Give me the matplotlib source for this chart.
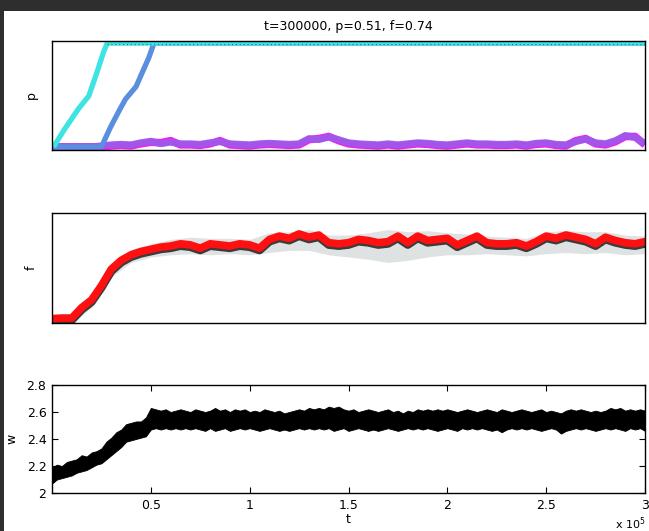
import numpy as np
import matplotlib
matplotlib.use("Agg")
import matplotlib.pyplot as plt
import matplotlib.transforms as mtransforms
from matplotlib.patches import Rectangle

plt.rcParams['font.family'] = ['DejaVu Sans']

title_text = "t=300000, p=0.51, f=0.74"

# ---- top panel: p (time in units of 1e5) ----
cyan_t = [0.008, 0.06, 0.11, 0.135, 0.186, 0.226, 0.262, 0.28, 3.0]
cyan_p = [0.0, 0.16, 0.30, 0.37, 0.49, 0.71, 0.92, 1.0, 1.0]
blue_t = [0.0, 0.25, 0.296, 0.34, 0.372, 0.425, 0.455, 0.49, 0.516, 3.0]
blue_p = [0.0, 0.0, 0.19, 0.35, 0.46, 0.58, 0.71, 0.86, 1.0, 1.0]
speck_t = [0.28, 3.0]
speck_p = [0.99, 0.99]
purple_p = [0.0, 0.0, 0.0, 0.0, 0.0, 0.01, 0.02, 0.025, 0.02, 0.04,
            0.055, 0.03, 0.045, 0.03, 0.03, 0.025, 0.04, 0.05, 0.03, 0.025,
            0.02, 0.03, 0.035, 0.03, 0.025, 0.03, 0.08, 0.07, 0.095, 0.07,
            0.04, 0.03, 0.025, 0.02, 0.03, 0.02, 0.03, 0.04, 0.035, 0.025,
            0.02, 0.03, 0.04, 0.03, 0.03, 0.025, 0.025, 0.03, 0.02, 0.035,
            0.04, 0.025, 0.02, 0.05, 0.075, 0.04, 0.03, 0.06, 0.11, 0.09,
            0.03]
magenta_p = [0.0, 0.0, 0.0, 0.0, 0.0, 0.0, 0.01, 0.015, 0.01, 0.03,
             0.045, 0.04, 0.06, 0.02, 0.02, 0.015, 0.03, 0.06, 0.02, 0.015,
             0.01, 0.02, 0.025, 0.02, 0.015, 0.02, 0.07, 0.08, 0.10, 0.06,
             0.03, 0.02, 0.015, 0.01, 0.02, 0.01, 0.02, 0.03, 0.025, 0.015,
             0.01, 0.02, 0.03, 0.02, 0.02, 0.015, 0.015, 0.02, 0.01, 0.025,
             0.03, 0.015, 0.01, 0.06, 0.08, 0.03, 0.02, 0.05, 0.10, 0.10,
             0.02]

# ---- middle panel: f ----
f_red = [0.04, 0.045, 0.045, 0.14, 0.21, 0.34, 0.49, 0.57, 0.62, 0.65,
         0.67, 0.69, 0.70, 0.72, 0.71, 0.68, 0.72, 0.71, 0.70, 0.72,
         0.71, 0.68, 0.76, 0.79, 0.77, 0.81, 0.78, 0.80, 0.73, 0.72,
         0.73, 0.76, 0.75, 0.73, 0.74, 0.79, 0.73, 0.79, 0.75, 0.76,
         0.77, 0.71, 0.75, 0.79, 0.73, 0.72, 0.72, 0.73, 0.70, 0.74,
         0.79, 0.77, 0.80, 0.78, 0.76, 0.72, 0.78, 0.75, 0.73, 0.72,
         0.74]
f_noise_hi = [0.06, 0.07, 0.26, 0.53, 0.67, 0.72, 0.76, 0.78, 0.77, 0.77,
              0.76, 0.82, 0.83, 0.85, 0.80, 0.80, 0.82, 0.85, 0.83, 0.84,
              0.82, 0.81, 0.79, 0.78, 0.77, 0.83, 0.84, 0.83, 0.83, 0.80,
              0.79]
f_noise_lo = [0.0, 0.0, 0.14, 0.42, 0.55, 0.60, 0.62, 0.63, 0.62, 0.63,
              0.62, 0.64, 0.66, 0.66, 0.62, 0.60, 0.58, 0.55, 0.57, 0.60,
              0.62, 0.62, 0.63, 0.62, 0.61, 0.63, 0.64, 0.63, 0.64, 0.62,
              0.63]

# ---- bottom panel: w band (upper / lower envelope) ----
w_upper = [2.19, 2.21, 2.20, 2.23, 2.24, 2.25, 2.28, 2.27, 2.30, 2.31,
           2.33, 2.38, 2.41, 2.45, 2.47, 2.51, 2.52, 2.53, 2.53, 2.56,
           2.63, 2.62, 2.61, 2.62, 2.60, 2.61, 2.62, 2.61, 2.60, 2.62,
           2.61, 2.60, 2.61, 2.63, 2.61, 2.62, 2.60, 2.62, 2.61, 2.62,
           2.60, 2.61, 2.60, 2.62, 2.61, 2.60, 2.61, 2.59, 2.60, 2.61,
           2.62, 2.61, 2.63, 2.62, 2.63, 2.62, 2.64, 2.63, 2.64, 2.62,
           2.61, 2.62, 2.60, 2.61, 2.62, 2.61, 2.60, 2.61, 2.62, 2.60,
           2.61, 2.59, 2.61, 2.60, 2.62, 2.61, 2.62, 2.61, 2.62, 2.61,
           2.62, 2.61, 2.60, 2.61, 2.62, 2.61, 2.60, 2.61, 2.62, 2.61,
           2.60, 2.62, 2.61, 2.60, 2.61, 2.62, 2.61, 2.60, 2.61, 2.62,
           2.60, 2.61, 2.60, 2.59, 2.61, 2.62, 2.61, 2.62, 2.61, 2.60,
           2.61, 2.60, 2.61, 2.63, 2.62, 2.63, 2.61, 2.62, 2.61, 2.62,
           2.61]
w_lower = [2.07, 2.10, 2.11, 2.12, 2.13, 2.15, 2.16, 2.17, 2.19, 2.21,
           2.22, 2.25, 2.28, 2.31, 2.34, 2.38, 2.39, 2.40, 2.41, 2.42,
           2.47, 2.48, 2.47, 2.48, 2.47, 2.48, 2.47, 2.48, 2.47, 2.48,
           2.47, 2.46, 2.48, 2.46, 2.47, 2.48, 2.46, 2.47, 2.48, 2.47,
           2.48, 2.47, 2.46, 2.47, 2.48, 2.47, 2.46, 2.47, 2.46, 2.47,
           2.48, 2.47, 2.48, 2.47, 2.48, 2.47, 2.48, 2.46, 2.47, 2.48,
           2.46, 2.47, 2.48, 2.47, 2.46, 2.47, 2.46, 2.47, 2.48, 2.47,
           2.46, 2.47, 2.48, 2.47, 2.48, 2.47, 2.48, 2.47, 2.46, 2.47,
           2.48, 2.47, 2.46, 2.48, 2.47, 2.48, 2.47, 2.48, 2.47, 2.46,
           2.47, 2.45, 2.47, 2.48, 2.47, 2.48, 2.47, 2.48, 2.47, 2.46,
           2.47, 2.48, 2.47, 2.44, 2.46, 2.47, 2.48, 2.47, 2.48, 2.47,
           2.46, 2.47, 2.48, 2.47, 2.48, 2.47, 2.46, 2.48, 2.47, 2.48,
           2.46]

w_ticks = [2.0, 2.2, 2.4, 2.6, 2.8]
w_ticklabels = ["2", "2.2", "2.4", "2.6", "2.8"]
t_ticks = [0.5, 1.0, 1.5, 2.0, 2.5, 3.0]
t_ticklabels = ["0.5", "1", "1.5", "2", "2.5", "3"]

T_MAX = 3.0
FS = 9

fig = plt.figure(figsize=(6.49, 5.31), dpi=100)
fig.patch.set_facecolor('white')

L, W = 52 / 649, (645 - 52) / 649
ax1 = fig.add_axes([L, 1 - 150 / 531, W, 109 / 531])
ax2 = fig.add_axes([L, 1 - 323 / 531, W, 110 / 531])
ax3 = fig.add_axes([L, 1 - 493 / 531, W, 108 / 531])

for ax in (ax1, ax2, ax3):
    for s in ax.spines.values():
        s.set_linewidth(1.0)
        s.set_color('black')
    ax.set_xlim(0, T_MAX)

# top panel
tg61 = np.linspace(0, T_MAX, len(purple_p))
ax1.plot(tg61, magenta_p, color='#f020f0', lw=5.5, solid_capstyle='butt')
ax1.plot(tg61, purple_p, color='#9a5ce8', lw=5.0, solid_capstyle='butt', alpha=0.9)
ax1.plot(blue_t, blue_p, color='#5a8fe0', lw=3.8, solid_capstyle='butt')
ax1.plot(cyan_t, cyan_p, color='#3ee3e3', lw=3.8, solid_capstyle='butt')
ax1.plot(speck_t, speck_p, color='#223333', lw=0.8, ls=(0, (1, 2.5)), alpha=0.6)
ax1.set_ylim(-0.03, 1.02)
ax1.set_xticks([])
ax1.set_yticks([])
ax1.set_ylabel('p', fontsize=FS, labelpad=10)
ax1.set_title(title_text, fontsize=FS, pad=8)

# middle panel
tg31 = np.linspace(0, T_MAX, len(f_noise_hi))
tgf = np.linspace(0, T_MAX, len(f_red))
ax2.fill_between(tg31, f_noise_lo, f_noise_hi, color='#6f7f80', alpha=0.22, lw=0)
shift = mtransforms.offset_copy(ax2.transData, fig=fig, x=0, y=-2.0, units='dots')
ax2.plot(tgf, f_red, color='#111111', lw=6, transform=shift, alpha=0.8)
ax2.plot(tgf, f_red, color='#ff1010', lw=5.5)
ax2.set_ylim(0, 1)
ax2.set_xticks([])
ax2.set_yticks([])
ax2.set_ylabel('f', fontsize=FS, labelpad=10)

# bottom panel
tgw = np.linspace(0, T_MAX, len(w_upper))
ax3.fill_between(tgw, w_lower, w_upper, color='black', lw=0.6, edgecolor='black')
ax3.set_ylim(2.0, 2.8)
ax3.set_yticks(w_ticks)
ax3.set_yticklabels(w_ticklabels)
ax3.set_xticks(t_ticks)
ax3.set_xticklabels(t_ticklabels)
ax3.tick_params(direction='in', length=4, width=0.8, top=True, right=True,
                labelsize=FS, pad=4)
ax3.set_xlabel('t', fontsize=FS, labelpad=1)
ax3.set_ylabel('w', fontsize=FS, labelpad=6)
fig.text(646 / 649, 1 - 524 / 531, r'x 10$^5$', fontsize=FS - 1, ha='right', va='center')

# window frame (dark border of the screenshot)
fig.patches.append(Rectangle((0, 1 - 11 / 531), 1, 11 / 531, transform=fig.transFigure,
                             facecolor='#2e2e2e', edgecolor='none', zorder=10))
fig.patches.append(Rectangle((0, 0), 4 / 649, 1, transform=fig.transFigure,
                             facecolor='#2e2e2e', edgecolor='none', zorder=10))

fig.savefig('out.png', dpi=100)
